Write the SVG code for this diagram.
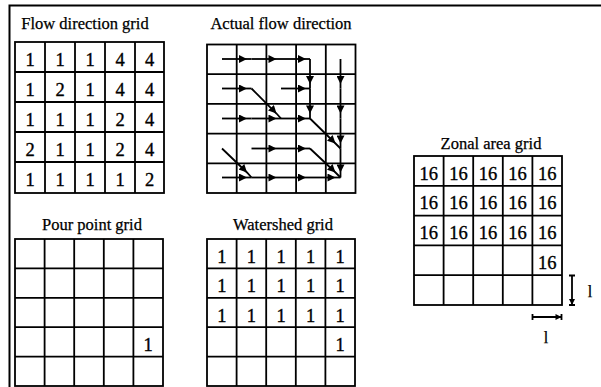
<svg xmlns="http://www.w3.org/2000/svg" width="601" height="387" viewBox="0 0 601 387">
<style>
.t{font-family:"Liberation Serif","Times New Roman",serif;font-size:16.5px;fill:#000;stroke:#000;stroke-width:0.25;text-anchor:middle}
.n{font-family:"Liberation Serif","Times New Roman",serif;font-size:18.5px;fill:#000;stroke:#000;stroke-width:0.35;text-anchor:middle}
.g{fill:#fff;stroke:#000;stroke-width:1.8}
.gl{stroke:#000;stroke-width:1.8;fill:none}
.fl{stroke:#000;stroke-width:1.8;fill:none;marker-mid:url(#ah)}
.fr{stroke:#000;stroke-width:2;fill:none}
</style>
<defs>
<marker id="ah" viewBox="0 0 10 10" refX="10" refY="5" markerWidth="11" markerHeight="8" orient="auto" markerUnits="userSpaceOnUse">
<path d="M0,0 L10,5 L0,10 z" fill="#000"/>
</marker>
<marker id="sb" viewBox="0 0 10 10" refX="10" refY="5" markerWidth="7" markerHeight="6" orient="auto" markerUnits="userSpaceOnUse">
<path d="M0,0 L10,5 L0,10 z" fill="#000"/>
</marker>
</defs>
<rect width="601" height="387" fill="#fff"/>
<g id="frame">
<path class="fr" d="M9.5,387 L9.5,5.5 L601,5.5"/>
</g>

<g id="flow-direction-grid">
<text class="t" x="85" y="29">Flow direction grid</text>
<rect class="g" x="15" y="42" width="149" height="151"/>
<path class="gl" d="M45,42V193M75,42V193M105,42V193M135,42V193M15,72H164M15,102H164M15,132H164M15,162H164"/>
<g class="n">
<text x="30" y="66">1</text><text x="60" y="66">1</text><text x="90" y="66">1</text><text x="120" y="66">4</text><text x="149.5" y="66">4</text>
<text x="30" y="96">1</text><text x="60" y="96">2</text><text x="90" y="96">1</text><text x="120" y="96">4</text><text x="149.5" y="96">4</text>
<text x="30" y="126">1</text><text x="60" y="126">1</text><text x="90" y="126">1</text><text x="120" y="126">2</text><text x="149.5" y="126">4</text>
<text x="30" y="156">2</text><text x="60" y="156">1</text><text x="90" y="156">1</text><text x="120" y="156">2</text><text x="149.5" y="156">4</text>
<text x="30" y="186">1</text><text x="60" y="186">1</text><text x="90" y="186">1</text><text x="120" y="186">1</text><text x="149.5" y="186">2</text>
</g>
</g>

<g id="actual-flow-direction">
<text class="t" x="281" y="28.5">Actual flow direction</text>
<rect class="g" x="207" y="44.5" width="148.5" height="148.5"/>
<path class="gl" d="M236.7,44.5V193M266.4,44.5V193M296.1,44.5V193M325.8,44.5V193M207,74.2H355.5M207,103.9H355.5M207,133.6H355.5M207,163.3H355.5"/>
</g>

<g id="connectors">
<path class="fl" d="M222,59 L247,59 L251.5,59"/>
<path class="fl" d="M251.5,59 L276.5,59 L281,59"/>
<path class="fl" d="M281,59 L306,59 L310,59"/>
<path class="fl" d="M310,59 L310,84 L310,88.5"/>
<path class="fl" d="M340.5,59 L340.5,84 L340.5,88.5"/>
<path class="fl" d="M222,88.5 L247,88.5 L251.5,88.5"/>
<path class="fl" d="M251.5,88.5 L276.5,113.5 L281,118.5"/>
<path class="fl" d="M281,88.5 L306,88.5 L310,88.5"/>
<path class="fl" d="M310,88.5 L310,113.5 L310,118.5"/>
<path class="fl" d="M340.5,88.5 L340.5,113.5 L340.5,118.5"/>
<path class="fl" d="M222,118.5 L247,118.5 L251.5,118.5"/>
<path class="fl" d="M251.5,118.5 L276.5,118.5 L281,118.5"/>
<path class="fl" d="M281,118.5 L306,118.5 L310,118.5"/>
<path class="fl" d="M310,118.5 L335.5,143.5 L340.5,148.5"/>
<path class="fl" d="M340.5,118.5 L340.5,143.5 L340.5,148.5"/>
<path class="fl" d="M222,148.5 L247,172.5 L251.5,177.5"/>
<path class="fl" d="M251.5,148.5 L276.5,148.5 L281,148.5"/>
<path class="fl" d="M281,148.5 L306,148.5 L310,148.5"/>
<path class="fl" d="M310,148.5 L335.5,172.5 L340.5,177.5"/>
<path class="fl" d="M340.5,148.5 L340.5,172.5 L340.5,177.5"/>
<path class="fl" d="M222,177.5 L247,177.5 L251.5,177.5"/>
<path class="fl" d="M251.5,177.5 L276.5,177.5 L281,177.5"/>
<path class="fl" d="M281,177.5 L306,177.5 L310,177.5"/>
<path class="fl" d="M310,177.5 L335.5,177.5 L340.5,177.5"/>
</g>

<g id="pour-point-grid">
<text class="t" x="92" y="230">Pour point grid</text>
<rect class="g" x="15" y="239" width="148" height="147"/>
<path class="gl" d="M44.6,239V386M74.2,239V386M103.8,239V386M133.4,239V386M15,268.4H163M15,297.8H163M15,327.2H163M15,356.6H163"/>
<text class="n" x="148.2" y="351">1</text>
</g>

<g id="watershed-grid">
<text class="t" x="283" y="230">Watershed grid</text>
<rect class="g" x="207" y="239" width="148" height="147"/>
<path class="gl" d="M236.6,239V386M266.2,239V386M295.8,239V386M325.4,239V386M207,268.4H355M207,297.8H355M207,327.2H355M207,356.6H355"/>
<g class="n">
<text x="221.8" y="263">1</text><text x="251.4" y="263">1</text><text x="281" y="263">1</text><text x="310.6" y="263">1</text><text x="340.2" y="263">1</text>
<text x="221.8" y="292.4">1</text><text x="251.4" y="292.4">1</text><text x="281" y="292.4">1</text><text x="310.6" y="292.4">1</text><text x="340.2" y="292.4">1</text>
<text x="221.8" y="321.8">1</text><text x="251.4" y="321.8">1</text><text x="281" y="321.8">1</text><text x="310.6" y="321.8">1</text><text x="340.2" y="321.8">1</text>
<text x="340.2" y="351.2">1</text>
</g>
</g>

<g id="zonal-area-grid">
<text class="t" x="491" y="148.5">Zonal area grid</text>
<rect class="g" x="414" y="156" width="148" height="149"/>
<path class="gl" d="M443.6,156V305M473.2,156V305M502.8,156V305M532.4,156V305M414,185.8H562M414,215.6H562M414,245.4H562M414,275.2H562"/>
<g class="n">
<text x="428.8" y="179.5">16</text><text x="458.4" y="179.5">16</text><text x="488" y="179.5">16</text><text x="517.6" y="179.5">16</text><text x="547.2" y="179.5">16</text>
<text x="428.8" y="209.3">16</text><text x="458.4" y="209.3">16</text><text x="488" y="209.3">16</text><text x="517.6" y="209.3">16</text><text x="547.2" y="209.3">16</text>
<text x="428.8" y="239.1">16</text><text x="458.4" y="239.1">16</text><text x="488" y="239.1">16</text><text x="517.6" y="239.1">16</text><text x="547.2" y="239.1">16</text>
<text x="547.2" y="268.9">16</text>
</g>
</g>

<g id="scale-bars">
<path class="gl" d="M572,290 L572,276 M572,290 L572,305" style="marker-end:url(#sb)"/>
<path class="gl" d="M569,275.5H575M569,305H575"/>
<path class="gl" d="M547,317 L532.5,317 M547,317 L561.5,317" style="marker-end:url(#sb)"/>
<path class="gl" d="M532.5,314V320M561.5,314V320"/>
<text class="t" x="590" y="297" style="font-size:16px">l</text>
<text class="t" x="546" y="343" style="font-size:16px">l</text>
</g>
</svg>
